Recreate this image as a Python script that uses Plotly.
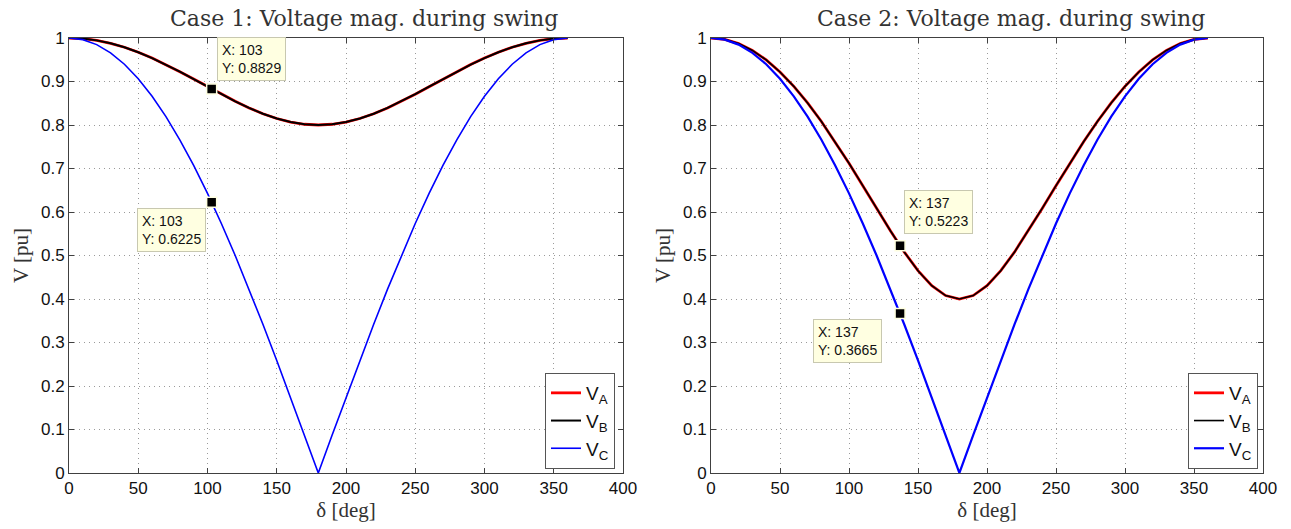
import plotly.graph_objects as go

# delta grid (deg)
delta = [0, 10, 20, 30, 40, 50, 60, 70, 80, 90, 100, 110, 120, 130, 140, 150, 160, 170, 180,
         190, 200, 210, 220, 230, 240, 250, 260, 270, 280, 290, 300, 310, 320, 330, 340, 350, 360]

# Case 1 values
c1_half_B = [1.0, 0.99863, 0.99456, 0.98787, 0.97872, 0.96732, 0.95394, 0.93892, 0.92264, 0.90554,
             0.88811, 0.87089, 0.85440, 0.83923, 0.82590, 0.81493, 0.80676, 0.80171, 0.8]
c1_VB = c1_half_B + c1_half_B[-2::-1]
c1_VA = list(c1_VB)
vc_half = [1.0, 0.9962, 0.9848, 0.9659, 0.9397, 0.9063, 0.8660, 0.8192, 0.7660, 0.7071,
           0.6428, 0.5736, 0.5, 0.4226, 0.3420, 0.2588, 0.1736, 0.0872, 0.0]
c1_VC = vc_half + vc_half[-2::-1]

# Case 2 values
c2_half_B = [1.0, 0.99680, 0.98725, 0.97146, 0.94960, 0.92194, 0.88882, 0.85068, 0.80804, 0.76158,
             0.71209, 0.66057, 0.60828, 0.55680, 0.50819, 0.46505, 0.43050, 0.40790, 0.4]
c2_VB = c2_half_B + c2_half_B[-2::-1]
c2_VA = list(c2_VB)
c2_VC = vc_half + vc_half[-2::-1]

# data tips
tip1_x = [103, 103]
tip1_y = [0.8829, 0.6225]
tip2_x = [137, 137]
tip2_y = [0.5223, 0.3665]

W, H = 1291, 529
ML, MR, MT, MB = 69, 28, 38, 56
PW, PH = W - ML - MR, H - MT - MB


def px(x):
    return (x - ML) / PW


def py(y):
    return (H - MB - y) / PH


fig = go.Figure()

# Case 1
fig.add_trace(go.Scatter(x=delta, y=c1_VA, mode="lines", line=dict(color="#ff0000", width=2.8),
                         name="V<sub>A</sub>", xaxis="x", yaxis="y", legend="legend"))
fig.add_trace(go.Scatter(x=delta, y=c1_VB, mode="lines", line=dict(color="#000000", width=2.0),
                         name="V<sub>B</sub>", xaxis="x", yaxis="y", legend="legend"))
fig.add_trace(go.Scatter(x=delta, y=c1_VC, mode="lines", line=dict(color="#0000ff", width=1.6),
                         name="V<sub>C</sub>", xaxis="x", yaxis="y", legend="legend"))
fig.add_trace(go.Scatter(x=tip1_x, y=tip1_y, mode="markers", showlegend=False,
                         marker=dict(symbol="square", size=10, color="black",
                                     line=dict(color="#ffffe1", width=1.5)),
                         xaxis="x", yaxis="y"))

# Case 2
fig.add_trace(go.Scatter(x=delta, y=c2_VA, mode="lines", line=dict(color="#ff0000", width=2.8),
                         name="V<sub>A</sub>", xaxis="x2", yaxis="y2", legend="legend2"))
fig.add_trace(go.Scatter(x=delta, y=c2_VB, mode="lines", line=dict(color="#000000", width=1.6),
                         name="V<sub>B</sub>", xaxis="x2", yaxis="y2", legend="legend2"))
fig.add_trace(go.Scatter(x=delta, y=c2_VC, mode="lines", line=dict(color="#0000ff", width=2.2),
                         name="V<sub>C</sub>", xaxis="x2", yaxis="y2", legend="legend2"))
fig.add_trace(go.Scatter(x=tip2_x, y=tip2_y, mode="markers", showlegend=False,
                         marker=dict(symbol="square", size=10, color="black",
                                     line=dict(color="#ffffe1", width=1.5)),
                         xaxis="x2", yaxis="y2"))

serif = "Liberation Serif, Times New Roman, serif"
title_serif = "DejaVu Serif, serif"
sans = "Liberation Sans, Arial, sans-serif"

axis_common = dict(
    showline=True, linecolor="#404040", linewidth=1, mirror="allticks",
    ticks="inside", ticklen=5, tickcolor="#404040",
    showgrid=True, gridcolor="#9a9a9a", griddash="1px,4px", gridwidth=1.2,
    zeroline=False, automargin=False,
    tickfont=dict(family=sans, size=17, color="#111111"),
)

xd1 = [0, px(623)]
xd2 = [px(711), 1]
yd = [0, 1]

xt = dict(text="δ [deg]", font=dict(family=serif, size=21, color="#333"), standoff=2)
yt = dict(text="V [pu]", font=dict(family=serif, size=21, color="#333"), standoff=6)

fig.update_layout(
    width=W, height=H,
    margin=dict(l=ML, r=MR, t=MT, b=MB, autoexpand=False),
    paper_bgcolor="white", plot_bgcolor="white",
    xaxis=dict(domain=xd1, range=[0, 400], dtick=50, anchor="y", title=xt, **axis_common),
    yaxis=dict(domain=yd, range=[0, 1], dtick=0.1, anchor="x", title=yt, **axis_common),
    xaxis2=dict(domain=xd2, range=[0, 400], dtick=50, anchor="y2", title=xt, **axis_common),
    yaxis2=dict(domain=yd, range=[0, 1], dtick=0.1, anchor="x2", title=yt, **axis_common),
    legend=dict(x=px(615), xanchor="right", y=py(469), yanchor="bottom",
                bgcolor="white", bordercolor="#555", borderwidth=1,
                font=dict(family=sans, size=19, color="#111"), tracegroupgap=0,
                entrywidth=52, entrywidthmode="pixels"),
    legend2=dict(x=px(1258), xanchor="right", y=py(469), yanchor="bottom",
                 bgcolor="white", bordercolor="#555", borderwidth=1,
                 font=dict(family=sans, size=19, color="#111"), tracegroupgap=0,
                 entrywidth=52, entrywidthmode="pixels"),
    showlegend=True,
)

# titles
fig.add_annotation(text="Case 1: Voltage mag. during swing", x=px(364), y=py(18),
                   xref="paper", yref="paper", showarrow=False, xanchor="center", yanchor="middle",
                   font=dict(family=title_serif, size=22, color="#333"))
fig.add_annotation(text="Case 2: Voltage mag. during swing", x=px(1011), y=py(18),
                   xref="paper", yref="paper", showarrow=False, xanchor="center", yanchor="middle",
                   font=dict(family=title_serif, size=22, color="#333"))

tipstyle = dict(showarrow=False, bgcolor="#ffffe1", bordercolor="#c8c8b0", borderwidth=1,
                borderpad=4, align="left", font=dict(family=sans, size=14, color="#111"))

fig.add_annotation(x=tip1_x[0], y=tip1_y[0], xref="x", yref="y",
                   text=f"X: {tip1_x[0]}<br>Y: {tip1_y[0]}",
                   xanchor="left", yanchor="bottom", xshift=5, yshift=8, **tipstyle)
fig.add_annotation(x=tip1_x[1], y=tip1_y[1], xref="x", yref="y",
                   text=f"X: {tip1_x[1]}<br>Y: {tip1_y[1]}",
                   xanchor="right", yanchor="top", xshift=-6, yshift=-6, **tipstyle)
fig.add_annotation(x=tip2_x[0], y=tip2_y[0], xref="x2", yref="y2",
                   text=f"X: {tip2_x[0]}<br>Y: {tip2_y[0]}",
                   xanchor="left", yanchor="bottom", xshift=4, yshift=12, **tipstyle)
fig.add_annotation(x=tip2_x[1], y=tip2_y[1], xref="x2", yref="y2",
                   text=f"X: {tip2_x[1]}<br>Y: {tip2_y[1]}",
                   xanchor="right", yanchor="top", xshift=-18, yshift=-5, **tipstyle)

fig.write_html("out.html")
